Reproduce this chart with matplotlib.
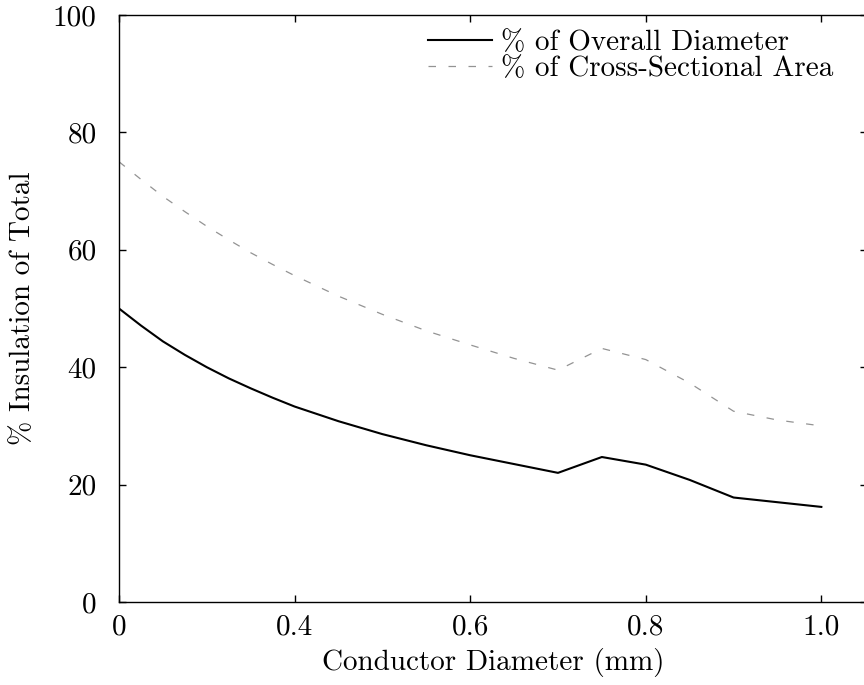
import matplotlib
matplotlib.use("Agg")
import matplotlib.pyplot as plt

plt.rcParams["font.family"] = "serif"
plt.rcParams["font.serif"] = ["cmr10", "DejaVu Serif"]
plt.rcParams["mathtext.fontset"] = "cm"
plt.rcParams["axes.unicode_minus"] = False

# conductor diameter (mm) and insulation share (%)
diameter = [0.200, 0.225, 0.250, 0.275, 0.300, 0.325, 0.350, 0.375, 0.40,
            0.45, 0.50, 0.55, 0.60, 0.65, 0.70, 0.75, 0.80, 0.85, 0.90,
            0.95, 1.00]
pct_diameter = [50.0, 47.1, 44.4, 42.1, 40.0, 38.1, 36.4, 34.8, 33.3,
                30.8, 28.6, 26.7, 25.0, 23.5, 22.0, 24.7, 23.4, 20.8, 17.8,
                17.0, 16.2]
pct_area = [75.0, 72.0, 69.1, 66.5, 64.0, 61.7, 59.5, 57.5, 55.6,
            52.1, 49.0, 46.2, 43.8, 41.5, 39.5, 43.2, 41.3, 37.3, 32.5,
            31.0, 30.0]

xticks = [0.2, 0.4, 0.6, 0.8, 1.0]
xtick_labels = ["0", "0.4", "0.6", "0.8", "1.0"]
yticks = [0, 20, 40, 60, 80, 100]

fig = plt.figure(figsize=(8.64, 6.85), dpi=100)
ax = fig.add_axes([119 / 864, 83 / 685, 748 / 864, 587 / 685])

ax.plot(diameter, pct_diameter, color="black", lw=1.5,
        label="% of Overall Diameter")
ax.plot(diameter, pct_area, color="#939393", lw=0.9, dashes=(6, 10),
        label="% of Cross-Sectional Area")

ax.set_xlim(0.2, 1.052)
ax.set_ylim(0, 100)
ax.set_xticks(xticks)
ax.set_xticklabels(xtick_labels)
ax.set_yticks(yticks)
ax.tick_params(direction="in", top=True, right=True, length=5, width=1,
               labelsize=21)
ax.tick_params(axis="x", pad=9)
ax.tick_params(axis="y", pad=16)
for s in ax.spines.values():
    s.set_linewidth(1.0)

ax.set_xlabel("Conductor Diameter (mm)", fontsize=21, labelpad=5)
ax.set_ylabel("% Insulation of Total", fontsize=21, labelpad=12)

ax.legend(loc="upper right", bbox_to_anchor=(0.955, 0.975),
          bbox_transform=ax.transAxes, frameon=False, fontsize=21,
          handlelength=2.2, handletextpad=0.3, labelspacing=0.0,
          borderpad=0, borderaxespad=0)

fig.savefig("out.png", dpi=100)
